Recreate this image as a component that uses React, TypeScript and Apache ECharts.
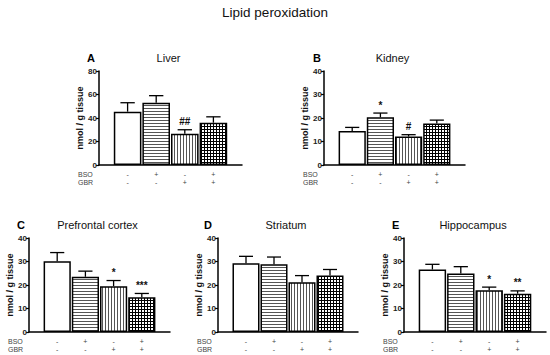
import React, { useEffect, useRef } from "react";
import * as echarts from "echarts";

// ---------- data ----------
const GROUPS = ["Control", "BSO", "GBR", "BSO+GBR"];
const BSO_SIGNS = ["-", "+", "-", "+"];
const GBR_SIGNS = ["-", "-", "+", "+"];

const LIVER_MEAN = [45.4, 53, 26.5, 36];
const LIVER_ERR = [53, 59, 30, 41];
const LIVER_SIG = ["", "", "##", ""];

const KIDNEY_MEAN = [14.5, 20.3, 12.1, 17.7];
const KIDNEY_ERR = [16, 22.1, 12.9, 19.1];
const KIDNEY_SIG = ["", "*", "#", ""];

const PFC_MEAN = [30.1, 23.5, 19.5, 14.8];
const PFC_ERR = [33.8, 25.9, 21.9, 16.4];
const PFC_SIG = ["", "", "*", "***"];

const STR_MEAN = [29.3, 28.8, 21.2, 24.0];
const STR_ERR = [32.2, 31.9, 24.0, 26.6];
const STR_SIG = ["", "", "", ""];

const HIP_MEAN = [26.6, 24.9, 17.8, 16.3];
const HIP_ERR = [28.8, 27.8, 19.1, 17.5];
const HIP_SIG = ["", "", "*", "**"];

const PANEL_LETTERS = ["A", "B", "C", "D", "E"];
const PANEL_TITLES = ["Liver", "Kidney", "Prefrontal cortex", "Striatum", "Hippocampus"];
const Y_MAX = [80, 40, 40, 40, 40];
const Y_INTERVAL = [20, 10, 10, 10, 10];
const MEANS = [LIVER_MEAN, KIDNEY_MEAN, PFC_MEAN, STR_MEAN, HIP_MEAN];
const ERRS = [LIVER_ERR, KIDNEY_ERR, PFC_ERR, STR_ERR, HIP_ERR];
const SIGS = [LIVER_SIG, KIDNEY_SIG, PFC_SIG, STR_SIG, HIP_SIG];

const MAIN_TITLE = "Lipid peroxidation";
const Y_NAME = "nmol / g tissue";

// ---------- layout (positions only) ----------
const LAYOUT = [
  { left: 99, top: 71, width: 143, height: 94, letterDx: -12 },
  { left: 324, top: 71, width: 141, height: 94, letterDx: -11 },
  { left: 29, top: 238, width: 141, height: 94, letterDx: -12 },
  { left: 218, top: 238, width: 140, height: 94, letterDx: -14 },
  { left: 404, top: 238, width: 142, height: 94, letterDx: -12 },
];

const FONT = "'Liberation Sans', Arial, sans-serif";

function makePattern(kind: string): HTMLCanvasElement {
  const c = document.createElement("canvas");
  c.width = 3;
  c.height = 3;
  const ctx = c.getContext("2d")!;
  ctx.fillStyle = "#ffffff";
  ctx.fillRect(0, 0, 3, 3);
  ctx.fillStyle = kind === "grid" ? "#000000" : "#555555";
  if (kind === "h" || kind === "grid") ctx.fillRect(0, 0, 3, 1);
  if (kind === "v" || kind === "grid") ctx.fillRect(0, 0, 1, 3);
  return c;
}

export default function App() {
  const ref = useRef<HTMLDivElement>(null);

  useEffect(() => {
    if (!ref.current) return;
    const chart = echarts.init(ref.current, undefined, { renderer: "svg" });

    const fills: any[] = [
      "#ffffff",
      { image: makePattern("h"), repeat: "repeat" },
      { image: makePattern("v"), repeat: "repeat" },
      { image: makePattern("grid"), repeat: "repeat" },
    ];

    const grid: any[] = [];
    const xAxis: any[] = [];
    const yAxis: any[] = [];
    const series: any[] = [];
    const graphic: any[] = [
      {
        type: "text",
        left: "center",
        top: 5,
        style: { text: MAIN_TITLE, font: `13.5px ${FONT}`, fill: "#111" },
      },
    ];

    LAYOUT.forEach((L, i) => {
      grid.push({ left: L.left, top: L.top, width: L.width, height: L.height });
      xAxis.push({
        type: "value",
        gridIndex: i,
        min: 0,
        max: GROUPS.length + 1,
        interval: 1,
        splitLine: { show: false },
        axisTick: { show: false },
        axisLine: { show: true, lineStyle: { color: "#000", width: 1.5 } },
        axisLabel: {
          show: true,
          margin: 5,
          fontSize: 7,
          lineHeight: 8,
          color: "#444",
          fontFamily: FONT,
          showMinLabel: false,
          showMaxLabel: false,
          formatter: (v: number) => {
            const k = Math.round(v) - 1;
            if (k < 0 || k >= GROUPS.length) return "";
            return `${BSO_SIGNS[k]}\n${GBR_SIGNS[k]}`;
          },
        },
      });
      yAxis.push({
        type: "value",
        gridIndex: i,
        min: 0,
        max: Y_MAX[i],
        interval: Y_INTERVAL[i],
        name: Y_NAME,
        nameLocation: "middle",
        nameGap: 9,
        nameTextStyle: { fontSize: 9, fontWeight: "bold", color: "#111", fontFamily: FONT },
        splitLine: { show: false },
        axisLine: { show: true, lineStyle: { color: "#000", width: 1.5 } },
        axisTick: { show: true, length: 3, lineStyle: { color: "#000", width: 1.2 } },
        axisLabel: { fontSize: 8, fontWeight: "bold", color: "#222", margin: 2, fontFamily: FONT },
      });

      const barW = (L.width / (GROUPS.length + 1)) * 0.965;
      series.push({
        type: "bar",
        xAxisIndex: i,
        yAxisIndex: i,
        barWidth: barW,
        barGap: "-100%",
        data: MEANS[i].map((m, k) => ({
          value: [k + 1, m],
          itemStyle: { color: fills[k], borderColor: "#000", borderWidth: 1.5 },
        })),
      });
      series.push({
        type: "custom",
        xAxisIndex: i,
        yAxisIndex: i,
        z: 5,
        data: MEANS[i].map((m, k) => [k + 1, m, ERRS[i][k], k]),
        renderItem: (params: any, api: any) => {
          const x = api.value(0);
          const m = api.value(1);
          const e = api.value(2);
          const k = api.value(3);
          const p0 = api.coord([x, m]);
          const p1 = api.coord([x, e]);
          const half = barW * 0.26;
          const children: any[] = [
            {
              type: "line",
              shape: { x1: p0[0], y1: p0[1], x2: p1[0], y2: p1[1] },
              style: { stroke: "#000", lineWidth: 1.3 },
            },
            {
              type: "line",
              shape: { x1: p1[0] - half, y1: p1[1], x2: p1[0] + half, y2: p1[1] },
              style: { stroke: "#000", lineWidth: 1.3 },
            },
          ];
          const sig = SIGS[i][k];
          if (sig) {
            children.push({
              type: "text",
              x: p1[0],
              y: p1[1] - 3,
              style: {
                text: sig,
                font: `bold 10px ${FONT}`,
                fill: "#111",
                align: "center",
                verticalAlign: "bottom",
              },
            });
          }
          return { type: "group", children };
        },
      });

      graphic.push({
        type: "text",
        x: L.left + L.letterDx,
        y: L.top - 19,
        style: { text: PANEL_LETTERS[i], font: `bold 11px ${FONT}`, fill: "#000" },
      });
      graphic.push({
        type: "text",
        x: L.left + L.width / 2 - 2,
        y: L.top - 19,
        style: { text: PANEL_TITLES[i], font: `11px ${FONT}`, fill: "#111", align: "center" },
      });
      graphic.push({
        type: "text",
        x: L.left - 21,
        y: L.top + L.height + 5,
        style: { text: "BSO\nGBR", font: `7px ${FONT}`, fill: "#444", lineHeight: 8 },
      });
    });

    chart.setOption({
      animation: false,
      backgroundColor: "#ffffff",
      textStyle: { fontFamily: FONT },
      grid,
      xAxis,
      yAxis,
      series,
      graphic,
    });

    return () => chart.dispose();
  }, []);

  return (
    <div
      ref={ref}
      style={{ position: "absolute", left: 0, top: 0, width: 550, height: 355 }}
    />
  );
}
